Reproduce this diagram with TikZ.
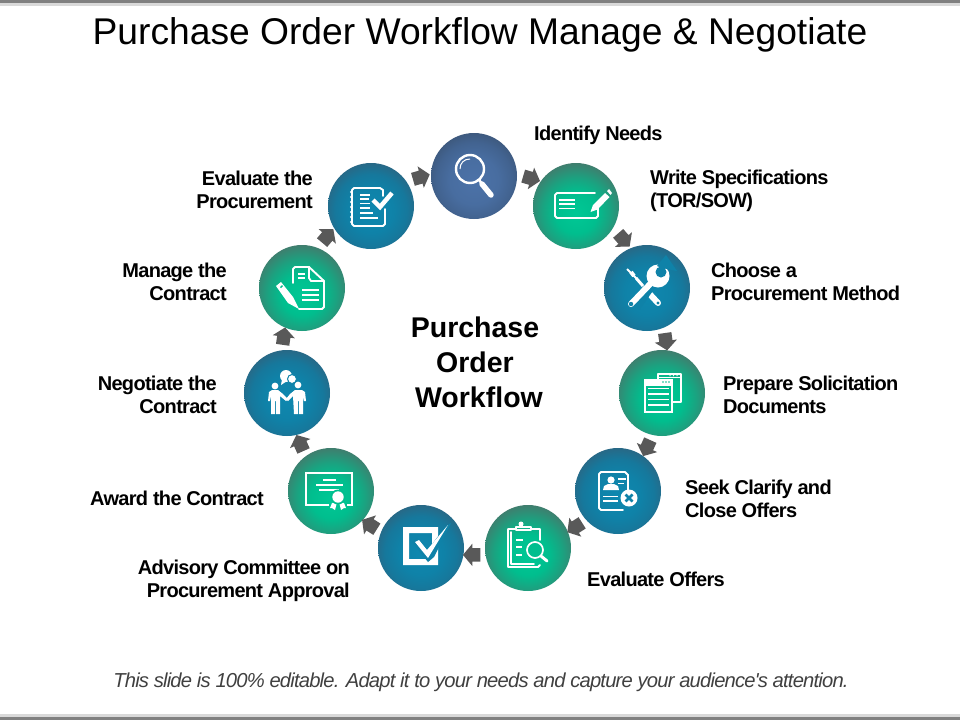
\documentclass[tikz,border=0pt]{standalone}
\usepackage{fontspec}
\setmainfont{Liberation Sans}
\newfontfamily\lblfont[LetterSpace=-3.5]{Liberation Sans}
\newfontfamily\footfont[LetterSpace=-4]{Liberation Sans}
\usetikzlibrary{shapes.arrows}

\definecolor{arrowgray}{HTML}{595959}
\definecolor{greenA}{HTML}{00C895}
\definecolor{greenB}{HTML}{00BE8E}
\definecolor{greenC}{HTML}{1BA280}
\definecolor{greenD}{HTML}{47766A}
\definecolor{tealA}{HTML}{0E88AF}
\definecolor{tealB}{HTML}{0F82A8}
\definecolor{tealC}{HTML}{16789C}
\definecolor{tealD}{HTML}{2D6480}
\definecolor{slateA}{HTML}{4C72A8}
\definecolor{slateB}{HTML}{486DA0}
\definecolor{slateC}{HTML}{426390}
\definecolor{slateD}{HTML}{3C5678}
\pgfdeclareradialshading{greenball}{\pgfpoint{0bp}{-4.5bp}}{color(0bp)=(greenA);color(12bp)=(greenB);color(20bp)=(greenC);color(30bp)=(greenD);color(100bp)=(greenD)}
\pgfdeclareradialshading{tealball}{\pgfpoint{0bp}{-3bp}}{color(0bp)=(tealA);color(13bp)=(tealB);color(21bp)=(tealC);color(29bp)=(tealD);color(100bp)=(tealD)}
\pgfdeclareradialshading{slateball}{\pgfpoint{0bp}{-3bp}}{color(0bp)=(slateA);color(14bp)=(slateB);color(22bp)=(slateC);color(29bp)=(slateD);color(100bp)=(slateD)}
\tikzset{
  stepball/.style={circle,minimum size=86pt,inner sep=0pt,shading=#1},
  flowarrow/.style={single arrow,fill=arrowgray,minimum height=17.5pt,minimum width=22pt,
    single arrow head extend=4.5pt,single arrow tip angle=100,inner xsep=0pt,inner ysep=6.5pt,
    sloped,allow upside down,anchor=center},
  steplabel/.style={font=\lblfont\bfseries\fontsize{20}{23}\selectfont,inner sep=0pt},
  icon/.style={draw=white,line width=1.9pt,line join=round,line cap=round},
  thinicon/.style={draw=white,line width=1.3pt,line cap=butt}
}

\begin{document}
\begin{tikzpicture}[x=1pt,y=-1pt]
\useasboundingbox (0,0) rectangle (960,720);
\fill[black!50] (0,0) rectangle (960,3);
\fill[black!15] (0,3) rectangle (960,6);
\fill[black!15] (0,714) rectangle (960,717);
\fill[black!50] (0,717) rectangle (960,720);
\node (title) [font=\fontsize{37.2}{40}\selectfont,inner sep=0pt] at (480,35) {Purchase Order Workflow Manage \& Negotiate};
\node (foot) [font=\footfont\itshape\fontsize{20.2}{22}\selectfont,text=black!75,inner sep=0pt] at (481,682) {This slide is 100\% editable. Adapt it to your needs and capture your audience's attention.};
\node (hub) [align=center,font=\bfseries\fontsize{28.5}{35}\selectfont,inner sep=0pt] at (475,362) {Purchase\\Order\\\ Workflow};

% the ring
\node (n1) [stepball=slateball] at (474,176) {};
\node (n2) [stepball=greenball] at (576,206) {};
\node (n3) [stepball=tealball] at (647,288) {};
\node (n4) [stepball=greenball] at (662,393) {};
\node (n5) [stepball=tealball] at (618,491) {};
\node (n6) [stepball=greenball] at (528,548) {};
\node (n7) [stepball=tealball] at (421,548) {};
\node (n8) [stepball=greenball] at (331,491) {};
\node (n9) [stepball=tealball] at (287,393) {};
\node (n10) [stepball=greenball] at (302,288) {};
\node (n11) [stepball=tealball] at (371,206) {};

% arrows between the steps
\foreach \a/\b/\bend in {n1/n2/16,n2/n3/16,n3/n4/13,n4/n5/10,n5/n6/9,n6/n7/8,n7/n8/9,n8/n9/10,n9/n10/13,n10/n11/16,n11/n1/16}
  \path (\a) to[bend left=\bend] node[flowarrow] {} (\b);

% labels
\node (l1) [steplabel,anchor=west] at (534,135) {Identify Needs};
\node (l2) [steplabel,anchor=west,align=left] at (650,191) {Write Specifications\\(TOR/SOW)};
\node (l3) [steplabel,anchor=west,align=left] at (711,282) {Choose a\\Procurement Method};
\node (l4) [steplabel,anchor=west,align=left] at (723,395) {Prepare Solicitation\\Documents};
\node (l5) [steplabel,anchor=west,align=left] at (685,499) {Seek Clarify and\\Close Offers};
\node (l6) [steplabel,anchor=west] at (587,579) {Evaluate Offers};
\node (l7) [steplabel,anchor=east,align=right] at (350,581) {Advisory Committee on\\Procurement Approval};
\node (l8) [steplabel,anchor=east] at (264,498) {Award the Contract};
\node (l9) [steplabel,anchor=east,align=right] at (217,395) {Negotiate the\\Contract};
\node (l10) [steplabel,anchor=east,align=right] at (227,282) {Manage the\\Contract};
\node (l11) [steplabel,anchor=east,align=right] at (313,190) {Evaluate the\\Procurement};

% magnifier
\begin{scope}[shift={(474,176)}]
  \draw[white,line width=2.4pt] (-4,-7) circle (14);
  \draw[white,line width=1pt] (-14,-7) .. controls (-14,-13) and (-10,-17) .. (-4,-17);
  \draw[white,line width=2.5pt] (5,4) -- (9,9);
  \draw[white,line width=5.5pt,line cap=round] (8,8) -- (17,19);
\end{scope}
% card and pencil
\begin{scope}[shift={(576,206)}]
  \draw[icon] (19,-13) -- (-19,-13) -- (-21,-11) -- (-21,10) -- (-19,12) -- (20,12) -- (22,10) -- (22,0);
  \draw[thinicon] (-17,-6) -- (-1,-6) (-17,-2) -- (-1,-2) (-17,2.5) -- (-1,2.5);
  \fill[white] (14.5,6) -- (17,-1) -- (29,-13) -- (33.5,-9) -- (21.5,3.5) -- cycle;
  \fill[white] (31,-15) -- (33,-17) -- (36,-13) -- (34.5,-11) -- cycle;
\end{scope}
% screwdriver and wrench
\begin{scope}[shift={(647,288)}]
  \draw[white,line width=2pt] (-20,-19) -- (-10,-9);
  \draw[white,line width=4pt] (-16,-16) -- (-13,-12);
  \draw[white,line width=3pt] (-11,-10) -- (-4,-2);
  \draw[white,line width=6pt,line cap=round] (-2,1) -- (11,15);
  \fill[tealB] (11,15) circle (1.6);
  \draw[tealB,line width=6.5pt] (-10,20) -- (6,-3);
  \draw[white,line width=6pt,line cap=round] (-16,16) -- (6,-7);
  \fill[tealB] (-16,16) circle (2.2);
  \fill[white] (11,-12) circle (11.5);
  \fill[tealB] (14,-16) circle (5.5);
  \fill[tealB] (15,-20) -- (30,-17) -- (19,-33) -- (10,-22) -- cycle;
\end{scope}
% two pages
\begin{scope}[shift={(662,393)}]
  \draw[icon] (-4,-14) -- (-4,-19) -- (19,-19) -- (19,9) -- (11,9);
  \draw[thinicon] (-4,-15.5) -- (19,-15.5);
  \fill[white] (-18,-14) rectangle (11,20);
  \fill[greenB] (-16.3,-7.5) rectangle (9.3,18.3);
  \draw[thinicon,line width=1.4pt] (-14,-4.5) -- (7,-4.5) (-14,1) -- (7,1) (-14,6.5) -- (7,6.5) (-14,12) -- (7,12);
  \fill[greenB] (1,-11) circle (.8) (4,-11) circle (.8) (7,-11) circle (.8);
  \fill[white] (8,-17.3) circle (.7) (11.5,-17.3) circle (.7) (15,-17.3) circle (.7);
\end{scope}
% resume with a cross
\begin{scope}[shift={(618,491)}]
  \draw[icon] (10,3) -- (10,-16) -- (7,-19) -- (-17,-19) -- (-19,-17) -- (-19,17) -- (-17,19) -- (5,19);
  \fill[white] (-7,-11) circle (3.6);
  \fill[white] (-15,-1) -- (-14,-5) -- (-10,-7) -- (-4,-7) -- (0,-5) -- (1,-1) -- cycle;
  \draw[icon,line width=1.7pt,line cap=butt] (0,-12) -- (8,-12) (0,-7.5) -- (6,-7.5) (-15,5.5) -- (0,5.5) (-15,10) -- (0,10);
  \fill[white] (11,7) circle (8.5);
  \draw[tealB,line width=2.6pt] (7.5,3.5) -- (14.5,10.5) (14.5,3.5) -- (7.5,10.5);
\end{scope}
% clipboard with a magnifier
\begin{scope}[shift={(528,548)}]
  \draw[icon] (-12,-19) -- (-20,-19) -- (-20,19) -- (10,19) -- (12,17);
  \draw[icon] (3,-19) -- (12,-19) -- (12,-8);
  \draw[icon] (-17,-16) -- (-17,16) -- (6,16);
  \draw[icon] (-12,-21) rectangle (3,-18);
  \fill[white] (-7,-24) circle (2.5);
  \draw[thinicon,line width=1.5pt] (-12,-8) -- (-5,-8) (-12,-1) -- (-6,-1) (-12,7) -- (-6,7);
  \fill[greenB] (7,2) circle (9.5);
  \draw[white,line width=1.7pt] (7,2) circle (8);
  \draw[white,line width=3pt,line cap=round] (13,8) -- (19,13);
\end{scope}
% tick in a box
\begin{scope}[shift={(421,548)}]
  \fill[white,even odd rule] (-18,-21) rectangle (17,17) (-12,-15) rectangle (11,11);
  \fill[tealB] (6,3) -- (24,-21) -- (30,-25) -- (13,9) -- (7,14) -- (-9,-6) -- (-4,-11) -- cycle;
  \fill[white] (-6,-6) -- (-2,-8) -- (6,2) -- (27,-23) -- (7,10) -- cycle;
\end{scope}
% certificate
\begin{scope}[shift={(331,491)}]
  \draw[white,line width=2pt] (-2,13.5) -- (-25,13.5) -- (-25,-18) -- (21,-18) -- (21,13.5) -- (16,13.5);
  \draw[thinicon,line width=1.6pt] (-8,-11) -- (5,-11) (-15,-6) -- (12,-6) (-12,-1) -- (8,-1);
  \fill[white] (1,12) -- (6,11) -- (4,19) -- (1,17) -- (-1,17) -- cycle;
  \fill[white] (13,12) -- (8,11) -- (10,19) -- (13,17) -- (15,17) -- cycle;
  \fill[greenB] (7,6) circle (7.5);
  \fill[white] (7,6) circle (5.7);
\end{scope}
% handshake
\begin{scope}[shift={(287,393)}]
  \fill[white] (-12,-7) circle (3.4) (11,-8) circle (3.4);
  \fill[white] (-19,8) -- (-18,-1) -- (-15,-3) -- (-9,-3) -- (-4,1) -- (1,6) -- (-1,8) -- (-7,3) -- (-7,21) -- (-11,21) -- (-11,8) -- (-12,8) -- (-12,21) -- (-16,21) -- (-16,3) -- (-17,8) -- cycle;
  \fill[white] (19,8) -- (18,-1) -- (15,-3) -- (8,-3) -- (3,1) -- (-1,6) -- (1,8) -- (6,3) -- (7,21) -- (11,21) -- (11,8) -- (12,8) -- (12,21) -- (16,21) -- (16,3) -- (17,8) -- cycle;
  \fill[white] (-1,-17) circle (6) (-6,-8) -- (-5,-14) -- (0,-12) -- cycle;
  \draw[tealB,line width=1pt,fill=white] (5,-14) circle (4.5);
\end{scope}
% document with a pencil
\begin{scope}[shift={(302,288)}]
  \draw[icon] (-9,-5) -- (-9,-19) -- (-7,-21) -- (7,-21) -- (22,-7) -- (22,19) -- (20,21) -- (-3,21);
  \draw[icon] (7,-21) -- (7,-10) -- (9,-7) -- (22,-7);
  \draw[thinicon,line width=1.5pt] (-4,-14) -- (3,-14) (-4,-10) -- (3,-10) (0,2) -- (17,2) (0,7) -- (17,7) (0,12) -- (17,12);
  \fill[white] (-26,-2) -- (-21,-6) -- (-9,9) -- (-3,21) -- (-14,15) -- cycle;
  \fill[greenB] (-22,-1) -- (-20,-3) -- (-19,-2) -- (-21,0) -- cycle;
\end{scope}
% notebook with a tick
\begin{scope}[shift={(371,206)}]
  \draw[icon] (12,-10) -- (12,-16) -- (9,-18) -- (-17,-18) -- (-19,-16) -- (-19,18) -- (-17,20) -- (12,20) -- (14,18) -- (14,3);
  \foreach \y in {-14,-9,...,16} \fill[white] (-20,\y) circle (1.1);
  \draw[thinicon,line width=1.4pt] (-11,-11) -- (-1,-11) (-11,-7) -- (-2,-7) (-11,-2.5) -- (-1,-2.5) (-11,2) -- (-1,2) (-11,7) -- (2,7) (-11,12) -- (7,12);
  \draw[white,line width=4.5pt,line cap=butt,line join=miter] (2,-6) -- (9,1) -- (21,-13);
\end{scope}
\end{tikzpicture}
\end{document}
